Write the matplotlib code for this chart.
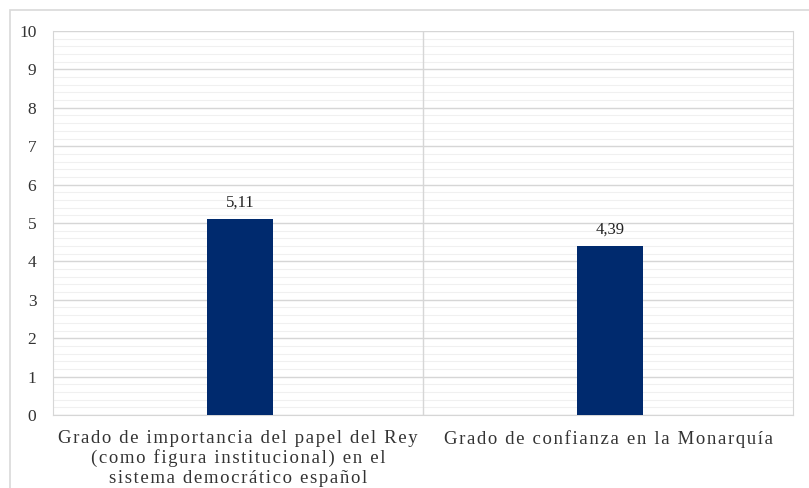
import numpy as np
import matplotlib
matplotlib.use('Agg')
import matplotlib.pyplot as plt
from matplotlib.ticker import MultipleLocator
from matplotlib.patches import Rectangle

# Data
categories = ['Grado de importancia del papel del Rey\n(como figura institucional) en el\nsistema democrático español',
              'Grado de confianza en la Monarquía']
values = [5.11, 4.39]
value_labels = ['5,11', '4,39']

plt.rcParams['font.family'] = ['Liberation Serif', 'DejaVu Serif']


def spaced(s):
    # the original labels are drawn with extra letter spacing
    return '\n'.join('\u200a'.join(line) for line in s.split('\n'))


fig = plt.figure(figsize=(8.09, 4.88), dpi=100)
ax = fig.add_axes([53 / 809, 1 - 415 / 488, 740 / 809, 384 / 488])

# outer frame
fig.patches.append(Rectangle((10 / 809, -0.01), 1.0, 1 - 10 / 488 + 0.01,
                             transform=fig.transFigure, fill=False,
                             edgecolor='#d9d9d9', linewidth=1.2))

x = np.arange(len(categories))
ax.bar(x + 0.005, values, width=0.18, color='#002a6e', zorder=3)
for xi, v, lab in zip(x, values, value_labels):
    ax.text(xi + 0.005, v + 0.22, lab, ha='center', va='bottom', fontsize=12, color='#222222')

ax.set_xlim(-0.5, 1.5)
ax.set_ylim(0, 10)
ax.yaxis.set_major_locator(MultipleLocator(1))
ax.yaxis.set_minor_locator(MultipleLocator(0.2))
ax.grid(axis='y', which='major', color='#d6d6d6', linewidth=1.0, zorder=0)
ax.grid(axis='y', which='minor', color='#f0f0f0', linewidth=0.8, zorder=0)
ax.axvline(0.5, color='#d6d6d6', linewidth=1.0, zorder=1)
ax.set_axisbelow(True)

ax.set_xticks(x)
ax.set_xticklabels([spaced(c) for c in categories],
                   fontsize=13.5, color='#333333', linespacing=1.16)
ax.tick_params(axis='x', length=0, pad=11)
ax.tick_params(axis='y', length=0, pad=12, labelsize=12.5, labelcolor='#333333')
ax.tick_params(which='minor', length=0)
for s in ['top', 'right', 'bottom', 'left']:
    ax.spines[s].set_color('#d6d6d6')
ax.spines['top'].set_visible(False)

fig.savefig('out.png', dpi=100, facecolor='white')
